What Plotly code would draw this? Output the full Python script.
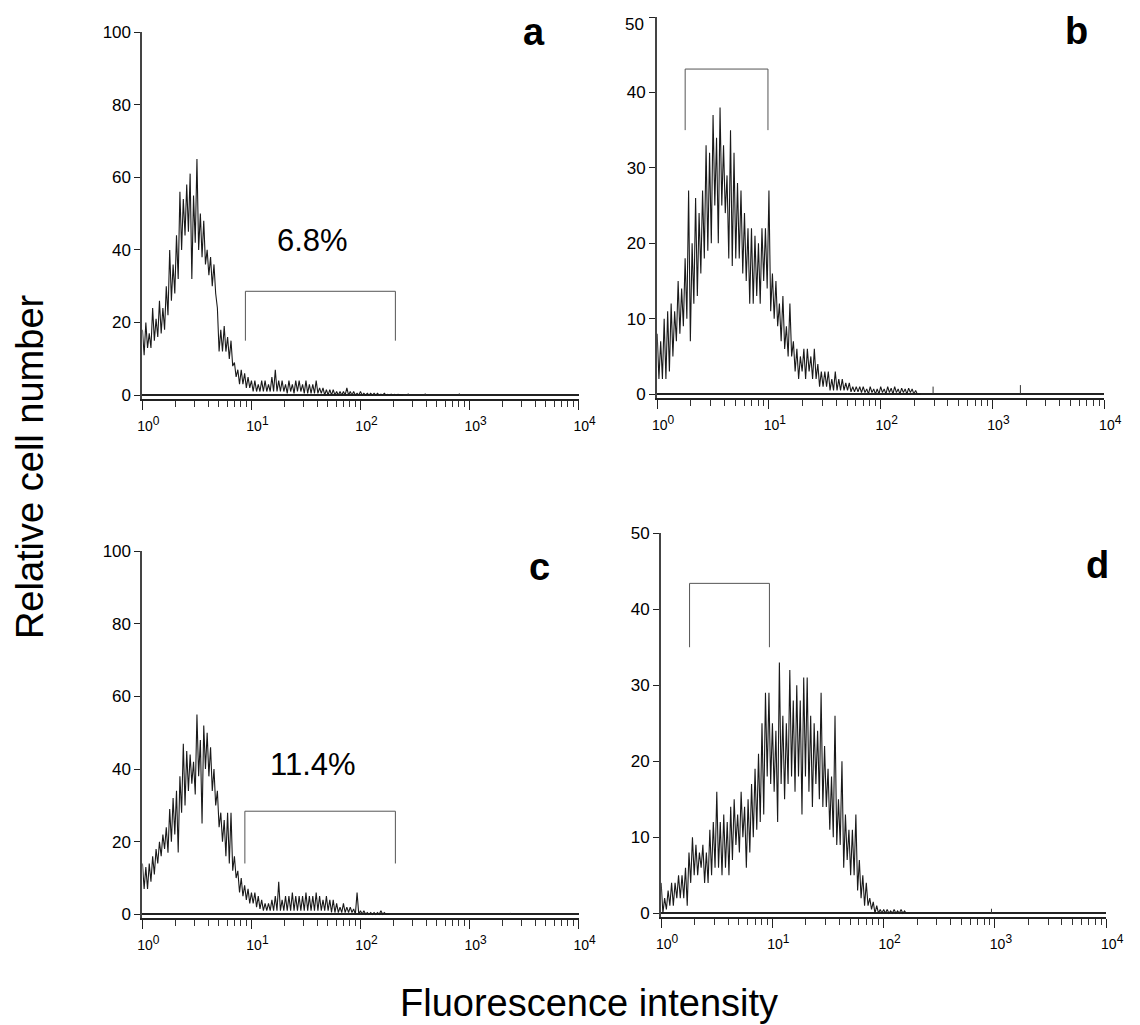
import plotly.graph_objects as go

# ---------------- data ----------------
CH_PER_DECADE = 32  # histogram channels per decade of fluorescence

# upper / lower envelope of the noisy count trace at each channel
hist_a_hi = [18, 20, 17, 24, 21, 26, 24, 30, 40, 36, 44, 56, 54, 58, 61, 55, 65, 50, 48, 40,
             38, 36, 24, 18, 19, 16, 15, 9, 7, 7, 6, 5, 4, 4, 3, 4, 4, 3, 5, 7,
             4, 4, 3, 4, 3, 4, 4, 3, 4, 3, 3, 4, 2, 2, 1.5, 1.5, 1.5, 1, 1, 1,
             2, 1, 1, 0.5, 1, 0.5, 0.5, 0.5, 0.5, 0.5, 0.3, 0.5, 0.2, 0.3, 0.2, 0.2, 0]
hist_a_lo = [11, 13, 13, 15, 16, 17, 18, 22, 26, 28, 32, 40, 44, 45, 32, 42, 40, 38, 36, 33,
             30, 28, 12, 12, 12, 10, 8, 5, 3, 3, 2, 2, 1, 1, 1, 1, 1, 1, 1, 1,
             1, 1, 0.5, 1, 0.5, 1, 1, 0.5, 0.5, 0.5, 0.5, 0.5, 0.5, 0, 0, 0, 0, 0, 0, 0,
             0, 0, 0, 0, 0, 0, 0, 0, 0, 0, 0, 0, 0, 0, 0, 0, 0]
hist_b_hi = [8, 7, 10, 11, 12, 11, 15, 14, 18, 27, 20, 26, 24, 27, 33, 32, 37, 34, 38, 33,
             29, 35, 32, 28, 27, 24, 22, 22, 21, 20, 22, 22, 27, 16, 15, 12, 13, 9, 12, 7,
             6, 5, 6, 6, 5, 6, 4, 3, 3, 3, 2, 3, 2, 2, 1.5, 1.5, 1, 1, 1, 1,
             0.7, 1, 0.7, 0.7, 1, 0.7, 1, 0.8, 1, 0.7, 0.8, 0.7, 0.8, 0.7, 0.5, 0]
hist_b_lo = [2, 2, 2, 3, 5, 7, 8, 9, 10, 7, 12, 13, 16, 18, 19, 20, 25, 20, 25, 24,
             18, 17, 18, 18, 16, 15, 12, 12, 13, 12, 15, 14, 11, 10, 9, 7, 6, 5, 5, 3,
             2, 3, 2, 3, 2, 2, 1, 1, 1, 0.5, 0.5, 0.5, 0.5, 0.5, 0.5, 0.3, 0.3, 0.3, 0.2, 0.2,
             0, 0.2, 0, 0, 0.2, 0, 0.2, 0, 0.2, 0, 0.2, 0, 0.2, 0, 0, 0]
hist_c_hi = [14, 13, 14, 16, 18, 20, 22, 24, 29, 32, 34, 38, 47, 45, 44, 42, 55, 48, 52, 50,
             46, 40, 34, 28, 26, 28, 28, 16, 12, 10, 8, 7, 6, 6, 5, 4, 3, 3, 4, 5,
             9, 4, 5, 5, 6, 5, 5, 5, 6, 5, 5, 6, 5, 4, 5, 4, 4, 3, 2, 3,
             2, 2, 1.5, 6, 1, 1, 0.5, 0.5, 0.5, 0.5, 1, 0.5, 0]
hist_c_lo = [7, 7, 9, 11, 14, 16, 18, 17, 20, 22, 17, 28, 30, 34, 36, 33, 38, 25, 40, 38,
             34, 30, 24, 20, 16, 14, 12, 10, 6, 5, 4, 3, 3, 2, 1.5, 1, 1, 1, 1, 1,
             1, 1, 1, 1, 1, 1, 1, 1, 1, 1, 1, 1, 1, 1, 1, 0.5, 0.5, 0.5, 0.5, 0.5,
             0.5, 0.5, 0, 0, 0, 0, 0, 0, 0, 0, 0, 0, 0]
hist_d_hi = [4, 2, 3, 4, 4, 5, 5, 6, 8, 10, 9, 8, 9, 8, 11, 12, 16, 12, 13, 12,
             14, 15, 13, 16, 14, 15, 17, 19, 21, 25, 29, 29, 25, 24, 33, 26, 25, 32, 28, 30,
             28, 31, 31, 26, 25, 24, 29, 22, 19, 18, 26, 15, 20, 13, 11, 11, 13, 7, 5, 4,
             2, 1.5, 1, 0.5, 0.5, 0.5, 0.3, 0.5, 0.3, 0.5, 0.3, 0]
hist_d_lo = [0, 0.5, 1, 1, 2, 2, 2, 1, 4, 5, 5, 6, 4, 4, 5, 6, 6, 5, 6, 5,
             7, 9, 8, 10, 6, 8, 10, 11, 12, 13, 18, 17, 16, 12, 17, 15, 17, 18, 16, 18,
             13, 18, 16, 14, 17, 15, 14, 14, 11, 10, 9, 9, 6, 7, 5, 5, 3, 2, 1, 1,
             0.5, 0, 0, 0, 0, 0, 0, 0, 0, 0, 0, 0]

# isolated events far in the tail: channel index, count
spikes_a_ch = [78, 83, 93]
spikes_a_val = [0.5, 0.5, 0.5]
spikes_b_ch = [79, 104]
spikes_b_val = [1.0, 1.2]
spikes_c_ch = [108]
spikes_c_val = [0.4]
spikes_d_ch = [95]
spikes_d_val = [0.6]

# marker gates: [low, high] fluorescence, [bottom, top] counts
gate_a_x = [8.8, 209]
gate_a_y = [15, 28.6]
gate_b_x = [1.78, 9.8]
gate_b_y = [35, 43.1]
gate_c_x = [8.7, 209]
gate_c_y = [14, 28.4]
gate_d_x = [1.8, 9.4]
gate_d_y = [35, 43.4]

panel_letters = ["a", "b", "c", "d"]
percent_labels = ["6.8%", "", "11.4%", ""]

y_ticks_100 = [0, 20, 40, 60, 80, 100]
y_ticks_50 = [0, 10, 20, 30, 40, 50]
x_major = [1, 10, 100, 1000, 10000]
x_major_exp = ["0", "1", "2", "3", "4"]
x_minor = [m * d for d in (1, 10, 100, 1000) for m in range(2, 10)]

# ---------------- layout geometry ----------------
W, H = 1140, 1025
# the page photograph shows the figure slightly scaled and offset; positions below are
# given in photograph pixels and converted to figure pixels
SCALE = 0.985
OFF_X, OFF_Y = 12, 16
FONT = "Liberation Sans, Arial, sans-serif"

def fx(px):  # photograph pixel -> paper fraction
    return ((px - OFF_X) / SCALE) / W

def fy(py):
    return 1 - ((py - OFF_Y) / SCALE) / H

# (x_left, x_right, y_top, y_bottom) in photograph pixels for each plotting area
panels = [
    (142, 580, 31, 398),
    (659, 1108, 16, 397),
    (142, 580, 550, 917),
    (663, 1110, 532, 916),
]
y_ranges = [[-1.1, 100], [-0.53, 50], [-1.1, 100], [-0.53, 50]]
y_tickvals = [y_ticks_100, y_ticks_50, y_ticks_100, y_ticks_50]
# panel b's top label sits at the very top edge: it is written as a separate text instead
y_ticktext = [[str(v) for v in y_ticks_100],
              [str(v) for v in y_ticks_50[:-1]] + [""],
              [str(v) for v in y_ticks_100],
              [str(v) for v in y_ticks_50]]
hists = [(hist_a_hi, hist_a_lo), (hist_b_hi, hist_b_lo), (hist_c_hi, hist_c_lo), (hist_d_hi, hist_d_lo)]
spikes = [(spikes_a_ch, spikes_a_val), (spikes_b_ch, spikes_b_val),
          (spikes_c_ch, spikes_c_val), (spikes_d_ch, spikes_d_val)]
gates = [(gate_a_x, gate_a_y), (gate_b_x, gate_b_y), (gate_c_x, gate_c_y), (gate_d_x, gate_d_y)]

x_major_text = ["10<sup><span style='font-size:12px'>" + e + "</span></sup>" for e in x_major_exp]

fig = go.Figure()
layout = dict(
    width=W, height=H, autosize=False,
    margin=dict(l=0, r=0, t=0, b=0, pad=0),
    paper_bgcolor="white", plot_bgcolor="white",
    showlegend=False,
    font=dict(family=FONT, color="black"),
)

def chan_to_x(ch):
    return 10 ** (ch / CH_PER_DECADE)

for k, (xl, xr, yt, yb) in enumerate(panels):
    n = "" if k == 0 else str(k + 1)
    xa, ya = "x" + n, "y" + n
    layout["xaxis" + n] = dict(
        type="log", range=[0, 4], domain=[fx(xl), fx(xr)], anchor=ya,
        showline=True, linecolor="#222", linewidth=1.5,
        ticks="outside", ticklen=9, tickwidth=1, tickcolor="#222",
        tickvals=x_major, ticktext=x_major_text,
        tickfont=dict(size=14, family=FONT), ticklabelshift=6, ticklabelstandoff=4,
        minor=dict(tickvals=x_minor, ticks="outside", ticklen=6, tickwidth=1, tickcolor="#333"),
        showgrid=False, zeroline=False, fixedrange=True,
    )
    layout["yaxis" + n] = dict(
        range=y_ranges[k], domain=[fy(yb), fy(yt)], anchor=xa,
        showline=True, linecolor="#444", linewidth=2,
        ticks="outside", ticklen=6, tickwidth=1, tickcolor="#222",
        tickvals=y_tickvals[k], ticktext=y_ticktext[k], tickfont=dict(size=17, family=FONT),
        showgrid=False, zeroline=True, zerolinecolor="#222", zerolinewidth=1.5,
        fixedrange=True,
    )
    hi, lo = hists[k]
    tx, ty = [], []
    for i, (h, l) in enumerate(zip(hi, lo)):
        tx += [chan_to_x(i), chan_to_x(i + 0.5)]
        ty += [h, l]
    fig.add_trace(go.Scatter(
        x=tx, y=ty, mode="lines", line=dict(color="#1a1a1a", width=1.1),
        xaxis=xa, yaxis=ya, hoverinfo="skip",
    ))
    sx, sy = [], []
    for c, v in zip(*spikes[k]):
        sx += [chan_to_x(c), chan_to_x(c), None]
        sy += [0, v, None]
    fig.add_trace(go.Scatter(
        x=sx, y=sy, mode="lines", line=dict(color="#333", width=1),
        xaxis=xa, yaxis=ya, hoverinfo="skip",
    ))
    gx, gy = gates[k]
    fig.add_trace(go.Scatter(
        x=[gx[0], gx[0], gx[1], gx[1]], y=[gy[0], gy[1], gy[1], gy[0]],
        mode="lines", line=dict(color="#555", width=1),
        xaxis=xa, yaxis=ya, hoverinfo="skip",
    ))

annotations = []
letter_pos = [(535, 31), (1080, 30), (541, 566), (1101, 564)]
for (px, py), t in zip(letter_pos, panel_letters):
    annotations.append(dict(
        text="<b>" + t + "</b>", x=fx(px), y=fy(py), xref="paper", yref="paper",
        xanchor="center", yanchor="middle", showarrow=False,
        font=dict(size=38, family=FONT, color="black"),
    ))
pct_pos = [(313, 239), None, (313, 763), None]
for pos, t in zip(pct_pos, percent_labels):
    if pos is None or not t:
        continue
    annotations.append(dict(
        text=t, x=fx(pos[0]), y=fy(pos[1]), xref="paper", yref="paper",
        xanchor="center", yanchor="middle", showarrow=False,
        font=dict(size=31, family=FONT, color="black"),
    ))
# top tick label of panel b
annotations.append(dict(
    text=str(y_ticks_50[-1]), x=fx(648), y=fy(23), xref="paper", yref="paper",
    xanchor="right", yanchor="middle", showarrow=False,
    font=dict(size=17, family=FONT, color="black"),
))
annotations.append(dict(
    text="Relative cell number", x=fx(29), y=fy(465), xref="paper", yref="paper",
    xanchor="center", yanchor="middle", textangle=-90, showarrow=False,
    font=dict(size=38, family=FONT, color="black"),
))
annotations.append(dict(
    text="Fluorescence intensity", x=fx(591), y=fy(1002), xref="paper", yref="paper",
    xanchor="center", yanchor="middle", showarrow=False,
    font=dict(size=38, family=FONT, color="black"),
))
layout["annotations"] = annotations

fig.update_layout(**layout)
fig.write_html("out.html")
